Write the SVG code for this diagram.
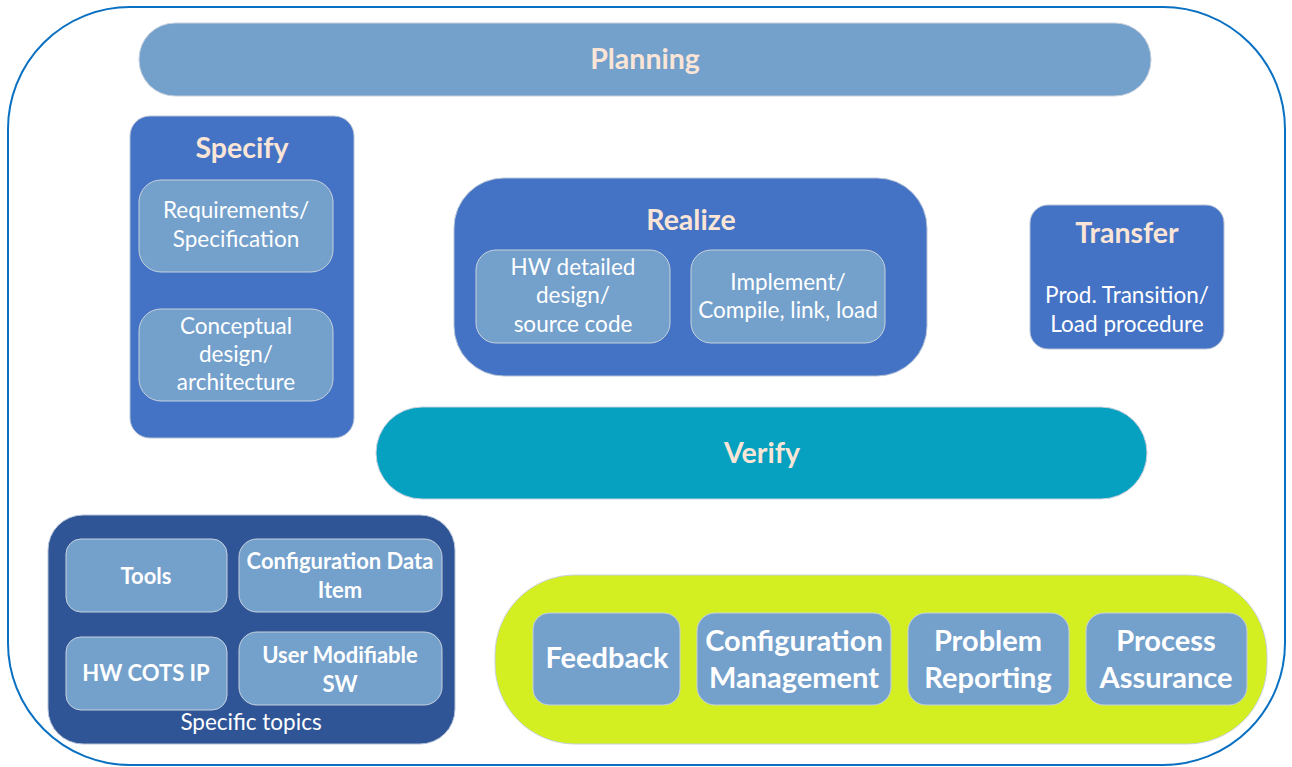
<svg xmlns="http://www.w3.org/2000/svg" width="1292" height="767" viewBox="0 0 1292 767">
<style>
.lb{fill:#74a0cc;stroke:#c8d2de;stroke-width:1}
.db{fill:#4472c4;stroke:#b8c4d8;stroke-width:1}
.t{font-family:Lato,"Open Sans","Liberation Sans",sans-serif;text-anchor:middle}
.h{font-weight:bold;font-size:28.5px;fill:#fbe5d6}
.w{fill:#ffffff;font-size:22.5px}
.wb{fill:#ffffff;font-size:22px;font-weight:bold}
.g{fill:#ffffff;font-size:29px;font-weight:bold}
</style>
<rect id="frame" x="8" y="7" width="1277" height="758" rx="122" ry="122" fill="#ffffff" stroke="#0a70c2" stroke-width="2"/>
<g id="planning">
<rect x="139" y="23" width="1012" height="73" rx="36" class="lb"/>
<text x="645" y="69" class="t h">Planning</text>
</g>
<g id="specify">
<rect x="130" y="116" width="224" height="322" rx="20" class="db"/>
<text x="242" y="158" class="t h">Specify</text>
<g id="requirements">
<rect x="139" y="180" width="194" height="92" rx="22" class="lb"/>
<text x="236" y="218" class="t w">Requirements/</text>
<text x="236" y="247" class="t w">Specification</text>
</g>
<g id="conceptual">
<rect x="139" y="309" width="194" height="92" rx="22" class="lb"/>
<text x="236" y="334" class="t w">Conceptual</text>
<text x="236" y="362" class="t w">design/</text>
<text x="236" y="390" class="t w">architecture</text>
</g>
</g>
<g id="realize">
<rect x="454" y="178" width="473" height="198" rx="50" class="db"/>
<text x="691" y="230" class="t h">Realize</text>
<g id="hwdetailed">
<rect x="476" y="250" width="194" height="93" rx="20" class="lb"/>
<text x="573" y="275" class="t w">HW detailed</text>
<text x="573" y="303" class="t w">design/</text>
<text x="573" y="332" class="t w">source code</text>
</g>
<g id="implement">
<rect x="691" y="250" width="194" height="93" rx="20" class="lb"/>
<text x="788" y="290" class="t w">Implement/</text>
<text x="788" y="318" class="t w">Compile, link, load</text>
</g>
</g>
<g id="transfer">
<rect x="1030" y="205" width="194" height="144" rx="18" class="db"/>
<text x="1127" y="243" class="t h">Transfer</text>
<text x="1127" y="303" class="t w">Prod. Transition/</text>
<text x="1127" y="332" class="t w">Load procedure</text>
</g>
<g id="verify">
<rect x="376" y="407" width="771" height="92" rx="46" fill="#06a0c0" stroke="#c8d2de" stroke-width="1"/>
<text x="762" y="463" class="t h">Verify</text>
</g>
<g id="specific">
<rect x="48" y="515" width="407" height="229" rx="35" fill="#2f5597" stroke="#b8c4d8" stroke-width="1"/>
<g id="tools">
<rect x="66" y="539" width="161" height="73" rx="15" class="lb"/>
<text x="146" y="584" class="t wb">Tools</text>
</g>
<g id="cdi">
<rect x="239" y="539" width="203" height="73" rx="18" class="lb"/>
<text x="340" y="569" class="t wb">Configuration Data</text>
<text x="340" y="598" class="t wb">Item</text>
</g>
<g id="hwcots">
<rect x="66" y="637" width="161" height="73" rx="15" class="lb"/>
<text x="146" y="681" class="t wb">HW COTS IP</text>
</g>
<g id="ums">
<rect x="239" y="632" width="203" height="73" rx="18" class="lb"/>
<text x="340" y="663" class="t wb">User Modifiable</text>
<text x="340" y="692" class="t wb">SW</text>
</g>
<text x="251" y="730" class="t w">Specific topics</text>
</g>
<g id="support">
<rect x="495" y="575" width="772" height="169" rx="80" fill="#d3ef22" stroke="#c8d2de" stroke-width="1"/>
<g id="feedback">
<rect x="533" y="613" width="147" height="92" rx="16" class="lb"/>
<text x="607" y="668" class="t g">Feedback</text>
</g>
<g id="cm">
<rect x="697" y="613" width="194" height="92" rx="18" class="lb"/>
<text x="794" y="651" class="t g">Configuration</text>
<text x="794" y="688" class="t g">Management</text>
</g>
<g id="pr">
<rect x="908" y="613" width="161" height="92" rx="18" class="lb"/>
<text x="988" y="651" class="t g">Problem</text>
<text x="988" y="688" class="t g">Reporting</text>
</g>
<g id="pa">
<rect x="1086" y="613" width="161" height="92" rx="18" class="lb"/>
<text x="1166" y="651" class="t g">Process</text>
<text x="1166" y="688" class="t g">Assurance</text>
</g>
</g>
<g id="connectors"></g>
</svg>
